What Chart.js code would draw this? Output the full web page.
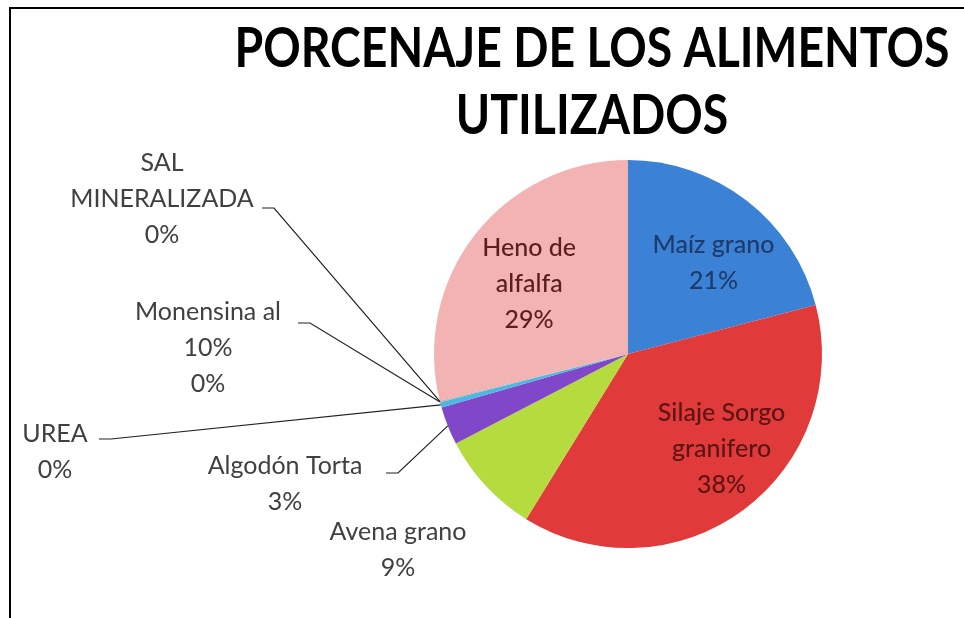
<!DOCTYPE html>
<html>
<head>
<meta charset="utf-8">
<script src="https://cdn.jsdelivr.net/npm/chart.js@4.4.1/dist/chart.umd.min.js"></script>
<style>
  body { margin: 0; background: #fff; }
  #wrap { position: relative; width: 964px; height: 618px; }
  #marco { position: absolute; left: 9px; top: 7px; right: 0; bottom: 0;
           border-left: 2px solid #000; border-top: 2px solid #000; pointer-events: none; }
</style>
</head>
<body>
<div id="wrap"><canvas id="torta"></canvas><div id="marco"></div></div>
<script>
// datos
var titulo = ["PORCENAJE DE LOS ALIMENTOS", "UTILIZADOS"];
var categorias = ["Maíz grano", "Silaje Sorgo\ngranifero", "Avena grano", "Algodón Torta",
                  "UREA", "Monensina al\n10%", "SAL\nMINERALIZADA", "Heno de\nalfalfa"];
var porcentajes = [21, 38, 8.6, 3.2, 0.45, 0.05, 0.05, 29];
var colores = ['#3b82d6', '#e03a3a', '#b5db3f', '#8048c8', '#4ab8e0', '#f59a45', '#7aa0d8', '#f3b3b3'];

// donde va cada etiqueta (dentro = relativo al centro del arco, fuera = punto fijo + linea guia)
var posiciones = [
  { dentro: true, r: 0.62, dx: 12, dy: 4, color: '#1d3c6b' },
  { dentro: true, r: 0.62, dx: 22, dy: -2, color: '#5c1414' },
  { x: 398, y: 532, color: '#404040' },
  { x: 285, y: 466, color: '#404040', guia: [386, 473] },
  { x: 55, y: 434, color: '#404040', guia: [99, 439] },
  { x: 208, y: 312, color: '#404040', guia: [298, 323] },
  { x: 162, y: 163, color: '#404040', guia: [262, 208] },
  { dentro: true, r: 0.62, dx: -4, dy: 4, color: '#5a2020' }
];

var ctx = document.getElementById('torta');

var tituloPlugin = {
  id: 'tituloPlugin',
  afterDraw: function(chart) {
    var c = chart.ctx;
    c.save();
    c.fillStyle = '#000';
    c.textAlign = 'center';
    c.textBaseline = 'middle';
    c.font = 'bold 55px Lato, "Open Sans", sans-serif';
    var w = c.measureText(titulo[0]).width;
    var k = 715 / w;
    var ys = [49, 116];
    titulo.forEach(function(t, i) {
      c.save();
      c.translate(592, ys[i]);
      c.scale(k, 1);
      c.fillText(t, 0, 0);
      c.restore();
    });
    c.restore();
  }
};

var etiquetas = {
  id: 'etiquetas',
  afterDatasetsDraw: function(chart) {
    var c = chart.ctx;
    var meta = chart.getDatasetMeta(0);
    var total = porcentajes.reduce(function(a, b) { return a + b; }, 0);
    c.save();
    c.textAlign = 'center';
    c.textBaseline = 'middle';
    meta.data.forEach(function(arc, i) {
      var p = arc.getProps(['x', 'y', 'startAngle', 'endAngle', 'outerRadius'], true);
      var mid = (p.startAngle + p.endAngle) / 2;
      var pct = Math.round(porcentajes[i] / total * 100) + '%';
      var lineas = categorias[i].split('\n').concat([pct]);
      var pos = posiciones[i];
      var x, y;
      if (pos.dentro) {
        c.font = '500 25px Lato, "Open Sans", sans-serif';
        x = p.x + Math.cos(mid) * p.outerRadius * pos.r + pos.dx;
        y = p.y + Math.sin(mid) * p.outerRadius * pos.r + pos.dy - (lineas.length - 1) * 36 / 2;
      } else {
        c.font = '25px Lato, "Open Sans", sans-serif';
        x = pos.x;
        y = pos.y;
        if (pos.guia) {
          c.strokeStyle = '#222';
          c.lineWidth = 1.2;
          c.beginPath();
          c.moveTo(pos.guia[0], pos.guia[1]);
          c.lineTo(pos.guia[0] + 12, pos.guia[1]);
          c.lineTo(p.x + Math.cos(mid) * p.outerRadius, p.y + Math.sin(mid) * p.outerRadius);
          c.stroke();
        }
      }
      c.fillStyle = pos.color;
      lineas.forEach(function(l, j) {
        c.fillText(l, x, y + j * 36);
      });
    });
    c.restore();
  }
};

var chartTorta = new Chart(ctx, {
  type: 'pie',
  data: {
    labels: categorias.map(function(s) { return s.replace('\n', ' '); }),
    datasets: [{
      data: porcentajes,
      backgroundColor: colores,
      borderWidth: 0
    }]
  },
  options: {
    responsive: true,
    maintainAspectRatio: false,
    animation: false,
    layout: { padding: { left: 428, right: 136, top: 160, bottom: 70 } },
    plugins: {
      legend: { display: false },
      tooltip: { enabled: false },
      title: { display: false }
    }
  },
  plugins: [tituloPlugin, etiquetas]
});
</script>
</body>
</html>
